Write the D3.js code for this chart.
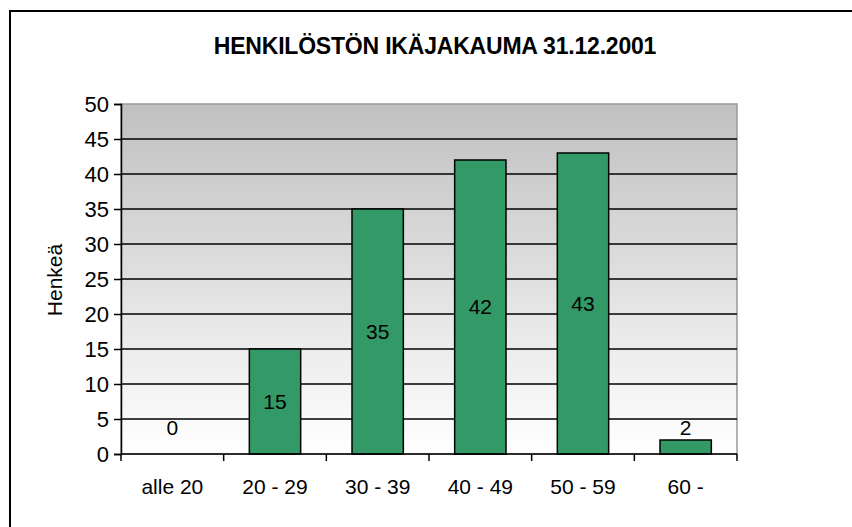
<!DOCTYPE html>
<html>
<head>
<meta charset="utf-8">
<script src="https://cdn.jsdelivr.net/npm/d3@7"></script>
<style>
  body { margin: 0; background: #fff; }
  text { font-family: "Liberation Sans", Arial, sans-serif; fill: #000; }
</style>
</head>
<body>
<svg width="852" height="527"></svg>
<script>
// data
var categories = ["alle 20", "20 - 29", "30 - 39", "40 - 49", "50 - 59", "60 -"];
var values = [0, 15, 35, 42, 43, 2];
var yTicks = [0, 5, 10, 15, 20, 25, 30, 35, 40, 45, 50];
var title = "HENKILÖSTÖN IKÄJAKAUMA 31.12.2001";
var yTitle = "Henkeä";

var svg = d3.select("svg");

// plot area
var plotLeft = 121, plotTop = 104, plotRight = 737, plotBottom = 454;

// outer chart border (only left/top visible in frame)
svg.append("rect")
    .attr("x", 10).attr("y", 11)
    .attr("width", 900).attr("height", 600)
    .attr("fill", "none")
    .attr("stroke", "#000")
    .attr("stroke-width", 2);

var x = d3.scaleBand()
    .domain(categories)
    .range([plotLeft, plotRight])
    .paddingInner(0.5)
    .paddingOuter(0.25);

var y = d3.scaleLinear()
    .domain([0, 50])
    .range([plotBottom, plotTop]);

// gradient background
var defs = svg.append("defs");
var grad = defs.append("linearGradient")
    .attr("id", "bg")
    .attr("x1", 0).attr("y1", 0).attr("x2", 0).attr("y2", 1);
grad.append("stop").attr("offset", "0%").attr("stop-color", "#c0c0c0");
grad.append("stop").attr("offset", "100%").attr("stop-color", "#ffffff");

svg.append("rect")
    .attr("x", plotLeft).attr("y", plotTop)
    .attr("width", plotRight - plotLeft).attr("height", plotBottom - plotTop)
    .attr("fill", "url(#bg)")
    .attr("stroke", "#999")
    .attr("stroke-width", 1.5);

// gridlines
svg.append("g").selectAll("line")
    .data(yTicks.filter(function(d) { return d > 0 && d < 50; }))
    .enter().append("line")
    .attr("x1", plotLeft).attr("x2", plotRight)
    .attr("y1", function(d) { return y(d); })
    .attr("y2", function(d) { return y(d); })
    .attr("stroke", "#000")
    .attr("stroke-width", 1.5);

// bars
svg.append("g").selectAll("rect")
    .data(values)
    .enter().append("rect")
    .attr("x", function(d, i) { return x(categories[i]); })
    .attr("y", function(d) { return y(d); })
    .attr("width", x.bandwidth())
    .attr("height", function(d) { return y(0) - y(d); })
    .attr("fill", "#339966")
    .attr("stroke", "#000")
    .attr("stroke-width", 1.5)
    .style("display", function(d) { return d > 0 ? null : "none"; });

// value labels
svg.append("g").selectAll("text")
    .data(values)
    .enter().append("text")
    .attr("x", function(d, i) { return x(categories[i]) + x.bandwidth() / 2; })
    .attr("y", function(d) { return Math.min((y(d) + y(0)) / 2, y(0) - 26); })
    .attr("dy", "0.35em")
    .attr("text-anchor", "middle")
    .style("font-size", "21px")
    .text(function(d) { return d; });

// y axis
var yAxis = svg.append("g")
    .attr("transform", "translate(" + plotLeft + ",0)")
    .call(d3.axisLeft(y).tickValues(yTicks).tickSize(7).tickPadding(5));
yAxis.select(".domain").attr("stroke", "#000").attr("stroke-width", 1.5);
yAxis.selectAll(".tick line").attr("stroke", "#000").attr("stroke-width", 1.5);
yAxis.selectAll(".tick text")
    .attr("fill", "#000")
    .style("font-size", "22px")
    .style("font-family", "Liberation Sans, Arial, sans-serif");

// x axis, ticks at band boundaries
svg.append("line")
    .attr("x1", plotLeft).attr("x2", plotRight)
    .attr("y1", plotBottom).attr("y2", plotBottom)
    .attr("stroke", "#000").attr("stroke-width", 1.5);

svg.append("g").selectAll("line")
    .data(d3.range(categories.length + 1))
    .enter().append("line")
    .attr("x1", function(i) { return plotLeft + i * (plotRight - plotLeft) / categories.length; })
    .attr("x2", function(i) { return plotLeft + i * (plotRight - plotLeft) / categories.length; })
    .attr("y1", plotBottom).attr("y2", plotBottom + 7)
    .attr("stroke", "#000").attr("stroke-width", 1.5);

svg.append("g").selectAll("text")
    .data(categories)
    .enter().append("text")
    .attr("x", function(d) { return x(d) + x.bandwidth() / 2; })
    .attr("y", 494)
    .attr("text-anchor", "middle")
    .style("font-size", "21px")
    .text(function(d) { return d; });

// y title
svg.append("text")
    .attr("transform", "translate(62,280) rotate(-90)")
    .attr("text-anchor", "middle")
    .style("font-size", "21px")
    .text(yTitle);

// title
svg.append("text")
    .attr("x", 435).attr("y", 54)
    .attr("text-anchor", "middle")
    .style("font-size", "23px")
    .style("font-weight", "bold")
    .style("letter-spacing", "-0.2px")
    .text(title);
</script>
</body>
</html>
